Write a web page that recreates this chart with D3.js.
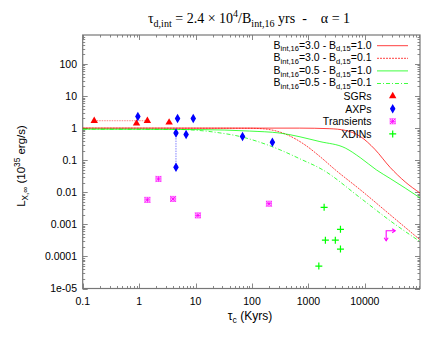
<!DOCTYPE html>
<html>
<head>
<meta charset="utf-8">
<script src="https://cdn.jsdelivr.net/npm/d3@7"></script>
<style>
body { margin: 0; background: #fff; }
svg { display: block; font-family: "Liberation Sans", Arial, sans-serif; }
</style>
</head>
<body>
<div id="chart"></div>
<script>
// model curves: [tau_c (kyr), L (1e35 erg/s)]
var redSolid = [[0.1,1],[700,1],[2400,0.96],[4500,0.85],[8300,0.55],[15000,0.22],[28000,0.06],[52000,0.021],[95000,0.0095]];
var redDashed = [[0.1,1],[90,0.99],[160,0.95],[420,0.62],[870,0.3],[1600,0.13],[3000,0.05],[8300,0.012],[28000,0.002],[95000,0.00033]];
var greenSolid = [[0.1,0.93],[12,0.9],[90,0.81],[315,0.7],[1600,0.38],[4500,0.24],[8300,0.12],[16000,0.05],[28000,0.027],[52000,0.0135],[95000,0.0067]];
var greenDashed = [[0.1,0.93],[3.5,0.92],[12,0.84],[27,0.71],[61,0.55],[140,0.36],[315,0.21],[710,0.11],[1800,0.05],[8300,0.0067],[28000,0.0013],[95000,0.00029]];

// sources
var sgrs = [[0.16,1.7],[0.9,1.4],[1.4,1.7],[3.4,1.5]];
var axps = [[0.95,2.3],[4.8,2.0],[9.1,2.0],[4.5,0.7],[6.8,0.63],[4.5,0.06],[68,0.55],[230,0.36]];
var transients = [[2.2,0.026],[1.4,0.0058],[4.0,0.0062],[11,0.0019],[200,0.0044]];
var xdins = [[1900,0.0034],[3700,0.0007],[2000,0.00032],[3000,0.00032],[3700,0.00017],[1530,0.00005]];
var limitPoint = [23900, 0.00063];
var sgrRange = [[0.16,1.7],[1.4,1.7]];
var axpRange = [[4.5,0.7],[4.5,0.06]];

var xTicks = [0.1, 1, 10, 100, 1000, 10000];
var xTickLabels = ["0.1", "1", "10", "100", "1000", "10000"];
var yTicks = [1e-5, 1e-4, 1e-3, 0.01, 0.1, 1, 10, 100];
var yTickLabels = ["1e-05", "0.0001", "0.001", "0.01", "0.1", "1", "10", "100"];

var width = 436, height = 338;
var plot = { left: 82.7, right: 420, top: 35, bottom: 288.5 };

var svg = d3.select("#chart").append("svg")
    .attr("width", width)
    .attr("height", height);

var x = d3.scaleLog().domain([0.1, 95000]).range([plot.left, plot.right]);
var y = d3.scaleLog().domain([1e-5, 800]).range([plot.bottom, plot.top]);

// ticks, gnuplot style: inward on all four sides
var minorX = [], minorY = [];
for (var e = -1; e <= 4; e++) for (var m = 2; m <= 9; m++) {
    var v = m * Math.pow(10, e);
    if (v < 95000) minorX.push(v);
}
for (var e2 = -5; e2 <= 2; e2++) for (var m2 = 2; m2 <= 9; m2++) {
    var w = m2 * Math.pow(10, e2);
    if (w < 800) minorY.push(w);
}

var tickColor = "#888";
var tk = svg.append("g").attr("stroke", tickColor).attr("stroke-width", 1);
function xTick(vals, len) {
    vals.forEach(function(v) {
        var px = Math.round(x(v)) + 0.5;
        tk.append("line").attr("x1", px).attr("x2", px).attr("y1", plot.bottom).attr("y2", plot.bottom - len);
        tk.append("line").attr("x1", px).attr("x2", px).attr("y1", plot.top).attr("y2", plot.top + len);
    });
}
function yTick(vals, len) {
    vals.forEach(function(v) {
        var py = Math.round(y(v)) + 0.5;
        tk.append("line").attr("y1", py).attr("y2", py).attr("x1", plot.left).attr("x2", plot.left + len);
        tk.append("line").attr("y1", py).attr("y2", py).attr("x1", plot.right).attr("x2", plot.right - len);
    });
}
xTick(xTicks, 5); xTick(minorX, 2.5);
yTick(yTicks, 5); yTick(minorY, 2.5);

svg.append("rect")
    .attr("x", plot.left).attr("y", plot.top)
    .attr("width", plot.right - plot.left).attr("height", plot.bottom - plot.top)
    .attr("fill", "none").attr("stroke", "#777").attr("stroke-width", 1.2);

// tick labels
svg.append("g").selectAll("text").data(xTicks).join("text")
    .attr("x", function(d) { return x(d); })
    .attr("y", 305)
    .attr("text-anchor", "middle")
    .attr("font-size", 10.5)
    .text(function(d, i) { return xTickLabels[i]; });

svg.append("g").selectAll("text").data(yTicks).join("text")
    .attr("x", 77)
    .attr("y", function(d) { return y(d) + 3.8; })
    .attr("text-anchor", "end")
    .attr("font-size", 10.5)
    .text(function(d, i) { return yTickLabels[i]; });

// rich text helper: parts are [text, "sub"|"sup"|null]
function rich(sel, parts, fs) {
    var back = 0;
    parts.forEach(function(p) {
        if (p[1] === "sub") {
            sel.append("tspan").attr("dy", back + fs * 0.28).attr("font-size", fs * 0.72).text(p[0]);
            back = -fs * 0.28;
        } else if (p[1] === "sup") {
            sel.append("tspan").attr("dy", back - fs * 0.4).attr("font-size", fs * 0.72).text(p[0]);
            back = fs * 0.4;
        } else {
            sel.append("tspan").attr("dy", back).text(p[0]);
            back = 0;
        }
    });
}

var title = svg.append("text")
    .attr("x", 249).attr("y", 23)
    .attr("text-anchor", "middle")
    .attr("font-family", "'Liberation Serif', 'Times New Roman', serif")
    .attr("font-size", 14)
    .style("white-space", "pre");
rich(title, [["\u03c4", null], ["d,int", "sub"], [" = 2.4 \u00d7 10", null], ["4", "sup"], ["/B", null], ["int,16", "sub"], [" yrs  -    \u03b1 = 1", null]], 14);

var ylab = svg.append("text")
    .attr("transform", "translate(25,166) rotate(-90)")
    .attr("text-anchor", "middle")
    .attr("font-size", 11.5);
rich(ylab, [["L", null], ["X,\u221e", "sub"], [" (10", null], ["35", "sup"], [" erg/s)", null]], 11.5);

var xlab = svg.append("text")
    .attr("x", 250).attr("y", 320)
    .attr("text-anchor", "middle")
    .attr("font-size", 12);
rich(xlab, [["\u03c4", null], ["c", "sub"], [" (Kyrs)", null]], 12);

// clip
svg.append("clipPath").attr("id", "clip").append("rect")
    .attr("x", plot.left).attr("y", plot.top)
    .attr("width", plot.right - plot.left).attr("height", plot.bottom - plot.top);

var line = d3.line()
    .x(function(d) { return x(d[0]); })
    .y(function(d) { return y(d[1]); })
    .curve(d3.curveMonotoneX);

var curves = [
    { data: redSolid, color: "#ff0000", dash: null },
    { data: redDashed, color: "#ff0000", dash: "2,1" },
    { data: greenSolid, color: "#00ff00", dash: null },
    { data: greenDashed, color: "#00ff00", dash: "4,2,1,2" }
];

var cg = svg.append("g").attr("clip-path", "url(#clip)");
curves.forEach(function(c) {
    cg.append("path")
        .attr("d", line(c.data))
        .attr("fill", "none")
        .attr("stroke", c.color)
        .attr("stroke-width", 1)
        .attr("stroke-opacity", 0.75)
        .attr("stroke-dasharray", c.dash);
});

// range lines
var straight = d3.line().x(function(d) { return x(d[0]); }).y(function(d) { return y(d[1]); });
cg.append("path").attr("d", straight(sgrRange)).attr("stroke", "#ff8080").attr("stroke-width", 1).attr("stroke-dasharray", "1.5,1").attr("fill", "none");
cg.append("path").attr("d", straight(axpRange)).attr("stroke", "#8080ff").attr("stroke-width", 1).attr("stroke-dasharray", "1.5,1").attr("fill", "none");

// markers
function drawTri(g, px, py) {
    g.append("path").attr("d", d3.symbol().type(d3.symbolTriangle).size(24)())
        .attr("transform", "translate(" + px + "," + py + ")").attr("fill", "#ff0000");
}
function drawDiamond(g, px, py) {
    g.append("path").attr("d", d3.symbol().type(d3.symbolDiamond).size(26)())
        .attr("transform", "translate(" + px + "," + py + ")").attr("fill", "#0000ff");
    g.append("path").attr("d", d3.symbol().type(d3.symbolCircle).size(13)())
        .attr("transform", "translate(" + px + "," + py + ")").attr("fill", "#0000ff");
}
function drawStarBox(g, px, py) {
    var s = 2.6;
    var gg = g.append("g").attr("transform", "translate(" + px + "," + py + ")")
        .attr("stroke", "#ff00ff").attr("stroke-width", 0.9).attr("fill", "none");
    gg.append("rect").attr("x", -s).attr("y", -s).attr("width", 2 * s).attr("height", 2 * s).attr("stroke-opacity", 0.6);
    gg.append("path").attr("d", "M" + (-s) + ",0H" + s + "M0," + (-s) + "V" + s +
        "M" + (-s) + "," + (-s) + "L" + s + "," + s + "M" + (-s) + "," + s + "L" + s + "," + (-s));
}
function drawPlus(g, px, py) {
    g.append("path").attr("d", "M" + (px - 3.5) + "," + py + "H" + (px + 3.5) + "M" + px + "," + (py - 3.5) + "V" + (py + 3.5))
        .attr("stroke", "#00ff00").attr("stroke-width", 1.2).attr("fill", "none");
}

var mg = svg.append("g");
sgrs.forEach(function(d) { drawTri(mg, x(d[0]), y(d[1])); });
axps.forEach(function(d) { drawDiamond(mg, x(d[0]), y(d[1])); });
transients.forEach(function(d) { drawStarBox(mg, x(d[0]), y(d[1])); });
xdins.forEach(function(d) { drawPlus(mg, x(d[0]), y(d[1])); });

// limit marker: arrow right (age lower limit) and down (luminosity upper limit)
var lx = x(limitPoint[0]), ly = y(limitPoint[1]);
var lim = mg.append("g").attr("stroke", "#ff00ff").attr("stroke-width", 1.1).attr("fill", "none");
lim.append("path").attr("d", "M" + lx + "," + (ly + 10) + "V" + ly + "H" + (lx + 9));
lim.append("path").attr("d", "M" + (lx + 6) + "," + (ly - 2) + "L" + (lx + 9) + "," + ly + "L" + (lx + 6) + "," + (ly + 2));
lim.append("path").attr("d", "M" + (lx - 2) + "," + (ly + 7) + "L" + lx + "," + (ly + 10) + "L" + (lx + 2) + "," + (ly + 7));

// legend
var legendCurves = [
    { b: "3.0", bd: "1.0", c: curves[0] },
    { b: "3.0", bd: "0.1", c: curves[1] },
    { b: "0.5", bd: "1.0", c: curves[2] },
    { b: "0.5", bd: "0.1", c: curves[3] }
];
var legendMarks = [
    { label: "SGRs", draw: drawTri },
    { label: "AXPs", draw: drawDiamond },
    { label: "Transients", draw: drawStarBox },
    { label: "XDINs", draw: drawPlus }
];
var lgTextX = 371.5, lgLineX1 = 377, lgLineX2 = 408, lgY0 = 45.7, lgStep = 12.6;
var lg = svg.append("g");
legendCurves.forEach(function(e, i) {
    var yy = lgY0 + i * lgStep;
    var t = lg.append("text").attr("x", lgTextX).attr("y", yy + 2.8).attr("text-anchor", "end").attr("font-size", 10.5);
    rich(t, [["B", null], ["int,16", "sub"], ["=" + e.b + " - B", null], ["d,15", "sub"], ["=" + e.bd, null]], 10.5);
    lg.append("line").attr("x1", lgLineX1).attr("x2", lgLineX2).attr("y1", yy).attr("y2", yy)
        .attr("stroke", e.c.color).attr("stroke-width", 1).attr("stroke-opacity", 0.75)
        .attr("stroke-dasharray", e.c.dash);
});
legendMarks.forEach(function(e, i) {
    var yy = lgY0 + (i + 4) * lgStep;
    lg.append("text").attr("x", lgTextX).attr("y", yy + 3.8).attr("text-anchor", "end").attr("font-size", 10.5).text(e.label);
    e.draw(lg, 392.7, yy);
});
</script>
</body>
</html>
